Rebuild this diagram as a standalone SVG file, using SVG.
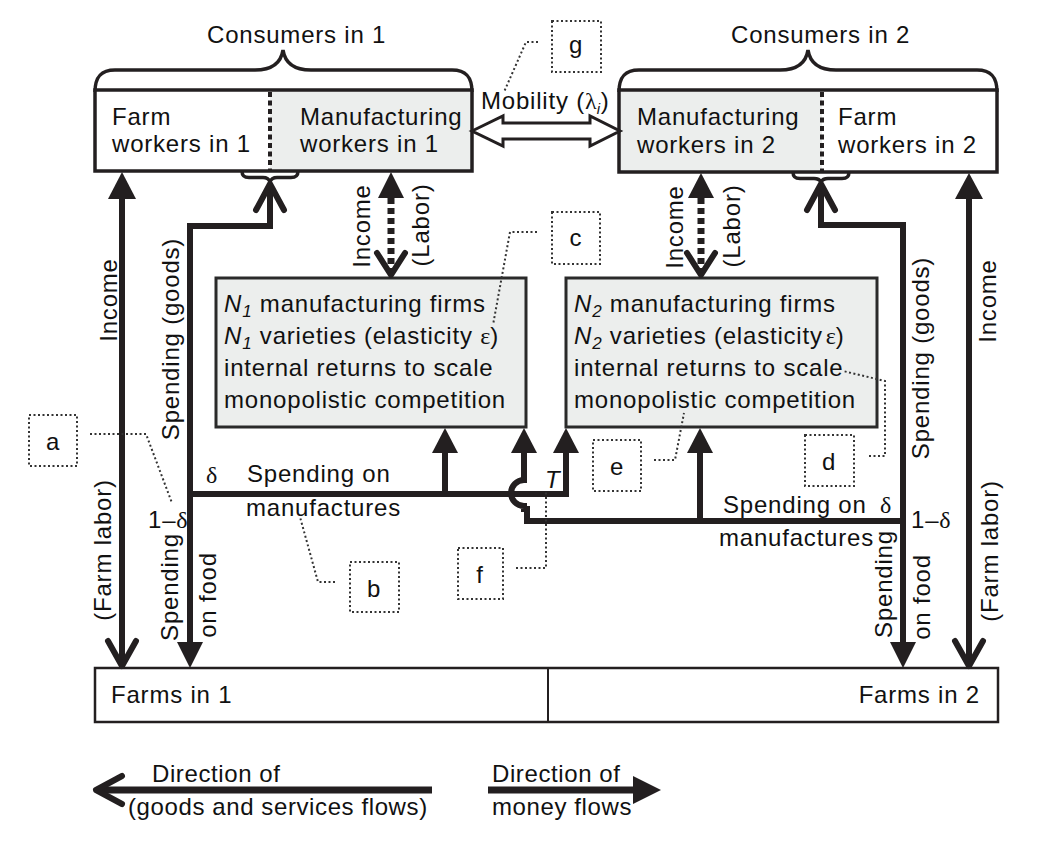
<svg xmlns="http://www.w3.org/2000/svg" width="1054" height="841" viewBox="0 0 1054 841">
<style>
text{font-family:"Liberation Sans",Arial,sans-serif;font-size:24px;letter-spacing:0.8px;fill:#111}
.gr{font-family:"Liberation Serif",serif;letter-spacing:0}
.it{font-style:italic}
.box{stroke:#231f20;stroke-width:3.5;fill:none}
.nbox{fill:#eceeed;stroke:#2a2a2a;stroke-width:3}
.brace{fill:none;stroke:#231f20;stroke-width:3.5}
.div{stroke:#231f20;stroke-width:4;stroke-dasharray:5 3.5}
.ln{fill:none;stroke:#231f20;stroke-width:6;stroke-linejoin:miter}
.dash{fill:none;stroke:#231f20;stroke-width:7;stroke-dasharray:6 4}
.chev{fill:none;stroke:#231f20;stroke-width:6;stroke-linecap:round;stroke-linejoin:round}
.head{fill:#231f20}
.lead{fill:none;stroke:#333;stroke-width:2;stroke-dasharray:2 2.5}
.lbox{fill:#fff;stroke:#333;stroke-width:2;stroke-dasharray:2 2.5}
.leg{letter-spacing:0.6px}
</style>

<g id="consumers1">
<path class="brace" d="M95,92 C95,78 100,70 115,70 H255 C272,70 281,63 283,50 C285,63 294,70 311,70 H452 C467,70 472,78 472,92"/>
<text x="207" y="43">Consumers in 1</text>
<rect x="95" y="90" width="377" height="81" fill="#fff"/>
<rect x="270" y="90" width="202" height="81" fill="#eceeed"/>
<rect class="box" x="95" y="90" width="377" height="81"/>
<line class="div" x1="270" y1="92" x2="270" y2="170"/>
<text x="112" y="125">Farm</text>
<text x="112" y="152">workers in 1</text>
<text x="300" y="125">Manufacturing</text>
<text x="300" y="152">workers in 1</text>
<path class="brace" stroke-width="3" d="M242,171 C242,176 244,177.5 249,177.5 H263 C267,177.5 269,179 270,182 C271,179 273,177.5 277,177.5 H291 C296,177.5 298,176 298,171"/>
</g>

<g id="consumers2">
<path class="brace" d="M619,92 C619,78 624,70 639,70 H780 C797,70 806,63 808,50 C810,63 819,70 836,70 H977 C992,70 997,78 997,92"/>
<text x="731" y="43">Consumers in 2</text>
<rect x="619" y="90" width="378" height="82" fill="#fff"/>
<rect x="619" y="90" width="203" height="82" fill="#eceeed"/>
<rect class="box" x="619" y="90" width="378" height="82"/>
<line class="div" x1="822" y1="92" x2="822" y2="171"/>
<text x="637" y="125">Manufacturing</text>
<text x="637" y="153">workers in 2</text>
<text x="838" y="125">Farm</text>
<text x="838" y="153">workers in 2</text>
<path class="brace" stroke-width="3" d="M793,172 C793,177 795,178.5 800,178.5 H814 C818,178.5 820,180 821,182 C822,180 824,178.5 828,178.5 H842 C847,178.5 849,177 849,172"/>
</g>

<g id="firms1">
<rect class="nbox" x="216" y="278" width="310" height="149"/>
<text x="224" y="312"><tspan class="it">N</tspan><tspan class="it" font-size="17" dy="5">1</tspan><tspan dy="-5"> manufacturing firms</tspan></text>
<text x="224" y="344"><tspan class="it">N</tspan><tspan class="it" font-size="17" dy="5">1</tspan><tspan dy="-5"> varieties (elasticity </tspan><tspan class="gr">ε</tspan>)</text>
<text x="224" y="376">internal returns to scale</text>
<text x="224" y="408">monopolistic competition</text>
</g>

<g id="firms2">
<rect class="nbox" x="566" y="278" width="311" height="149"/>
<text x="574" y="312"><tspan class="it">N</tspan><tspan class="it" font-size="17" dy="5">2</tspan><tspan dy="-5"> manufacturing firms</tspan></text>
<text x="574" y="344"><tspan class="it">N</tspan><tspan class="it" font-size="17" dy="5">2</tspan><tspan dy="-5"> varieties (elasticity</tspan><tspan class="gr" dx="3">ε</tspan>)</text>
<text x="574" y="376">internal returns to scale</text>
<text x="574" y="408">monopolistic competition</text>
</g>

<g id="farms">
<rect x="95" y="668" width="903" height="54" fill="#fff" stroke="#231f20" stroke-width="2.5"/>
<line x1="548" y1="668" x2="548" y2="722" stroke="#231f20" stroke-width="2"/>
<text x="111" y="703">Farms in 1</text>
<text x="980" y="703" text-anchor="end">Farms in 2</text>
</g>

<g id="connectors">
<polygon points="472,131 503,116 503,123 590,123 590,116 620,131 590,146 590,139 503,139 503,146" fill="#fff" stroke="#231f20" stroke-width="3" stroke-linejoin="miter"/>
<line class="ln" x1="122" y1="196" x2="122" y2="666"/>
<polygon class="head" points="122,172 108,199 136,199"/>
<path class="chev" d="M108,641 L122,666 L136,641"/>
<path class="ln" d="M270,184 V226 H190 V645"/>
<path class="chev" d="M256,210 L270,184 L284,210"/>
<polygon class="head" points="190,668 177,642 203,642"/>
<line class="dash" x1="391" y1="198" x2="391" y2="272"/>
<polygon class="head" points="391,172 378,198 404,198"/>
<path class="chev" d="M377,253 L391,275 L405,253"/>
<line class="dash" x1="701" y1="198" x2="701" y2="272"/>
<polygon class="head" points="701,173 688,198 714,198"/>
<path class="chev" d="M687,253 L701,275 L715,253"/>
<path class="ln" d="M821,184 V225 H903 V645"/>
<path class="chev" d="M807,210 L821,184 L835,210"/>
<polygon class="head" points="903,668 890,642 916,642"/>
<line class="ln" x1="969" y1="196" x2="969" y2="666"/>
<polygon class="head" points="969,173 955,199 983,199"/>
<path class="chev" d="M955,641 L969,666 L983,641"/>
<path class="ln" d="M190,494 H566 V450"/>
<polygon class="head" points="566,428 553,453 579,453"/>
<line class="ln" x1="445" y1="494" x2="445" y2="450"/>
<polygon class="head" points="445,428 432,453 458,453"/>
<path class="ln" d="M903,521 H527 V509 H524 V506 A13,13 0 0 1 524,480 V450"/>
<polygon class="head" points="524,428 511,453 537,453"/>
<line class="ln" x1="700" y1="521" x2="700" y2="450"/>
<polygon class="head" points="700,428 687,453 713,453"/>
<path class="lead" d="M90,434 H146 L172,503"/>
<path class="lead" d="M335,582 H318 L300,517"/>
<path class="lead" d="M537,232 H510 L493,325"/>
<path class="lead" d="M869,456 H885 V381 L843,371"/>
<path class="lead" d="M654,460 H675 L684,413"/>
<path class="lead" d="M516,568 H546 V490"/>
<path class="lead" d="M538,42 H526 L504,92"/>
<line x1="432" y1="790" x2="98" y2="790" stroke="#231f20" stroke-width="7"/>
<path class="chev" d="M122,776 L96,790 L122,804"/>
<line x1="488" y1="790" x2="640" y2="790" stroke="#231f20" stroke-width="7"/>
<polygon class="head" points="661,790 633,776 633,804"/>
</g>

<g id="labels">
<text x="481" y="109">Mobility (<tspan class="gr">λ</tspan><tspan class="it" font-size="15" dy="5">i</tspan><tspan dy="-5">)</tspan></text>
<text transform="translate(117,300) rotate(-90)" text-anchor="middle">Income</text>
<text transform="translate(179,339) rotate(-90)" text-anchor="middle">Spending (goods)</text>
<text transform="translate(370,226) rotate(-90)" text-anchor="middle">Income</text>
<text transform="translate(429,225) rotate(-90)" text-anchor="middle">(Labor)</text>
<text transform="translate(683,227) rotate(-90)" text-anchor="middle">Income</text>
<text transform="translate(740,226) rotate(-90)" text-anchor="middle">(Labor)</text>
<text transform="translate(929,358) rotate(-90)" text-anchor="middle">Spending (goods)</text>
<text transform="translate(996,301) rotate(-90)" text-anchor="middle">Income</text>
<text transform="translate(111,550) rotate(-90)" text-anchor="middle">(Farm labor)</text>
<text transform="translate(178,587) rotate(-90)" text-anchor="middle">Spending</text>
<text transform="translate(216,595) rotate(-90)" text-anchor="middle">on food</text>
<text transform="translate(892,584) rotate(-90)" text-anchor="middle">Spending</text>
<text transform="translate(930,597) rotate(-90)" text-anchor="middle">on food</text>
<text transform="translate(998,551) rotate(-90)" text-anchor="middle">(Farm labor)</text>
<text class="gr" x="206" y="483">δ</text>
<text x="247" y="482">Spending on</text>
<text x="246" y="516">manufactures</text>
<text x="148" y="528">1–<tspan class="gr">δ</tspan></text>
<text class="it" x="545" y="488">T</text>
<text x="723" y="513">Spending on</text>
<text class="gr" x="880" y="513">δ</text>
<text x="911" y="528">1–<tspan class="gr">δ</tspan></text>
<text x="719" y="546">manufactures</text>
<text class="leg" x="152" y="782">Direction of</text>
<text class="leg" x="128" y="815">(goods and services flows)</text>
<text class="leg" x="492" y="782">Direction of</text>
<text class="leg" x="492" y="815">money flows</text>
</g>

<g id="box-a"><rect class="lbox" x="29" y="415" width="48" height="51"/><text x="53" y="450" text-anchor="middle">a</text></g>
<g id="box-b"><rect class="lbox" x="350" y="562" width="49" height="50"/><text x="374" y="597" text-anchor="middle">b</text></g>
<g id="box-c"><rect class="lbox" x="552" y="212" width="48" height="52"/><text x="576" y="246" text-anchor="middle">c</text></g>
<g id="box-d"><rect class="lbox" x="805" y="435" width="49" height="51"/><text x="829" y="470" text-anchor="middle">d</text></g>
<g id="box-e"><rect class="lbox" x="593" y="440" width="48" height="51"/><text x="617" y="475" text-anchor="middle">e</text></g>
<g id="box-f"><rect class="lbox" x="458" y="548" width="45" height="51"/><text x="480" y="583" text-anchor="middle">f</text></g>
<g id="box-g"><rect class="lbox" x="552" y="21" width="49" height="51"/><text x="576" y="53" text-anchor="middle">g</text></g>
</svg>
